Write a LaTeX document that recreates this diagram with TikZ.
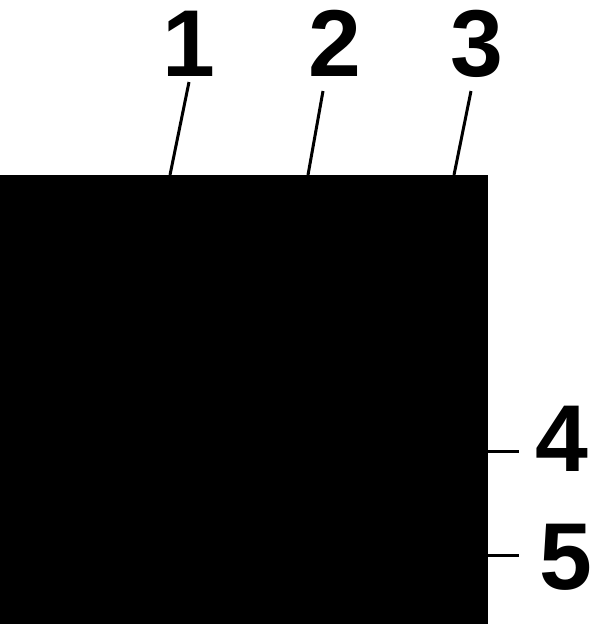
\documentclass[tikz,border=0pt]{standalone}
\usepackage{fontspec}
\setmainfont{Liberation Sans}
\begin{document}
\begin{tikzpicture}[x=1pt,y=-1pt,
  lbl/.style={inner sep=0pt,text height=68pt,text depth=0pt,font=\fontsize{95}{95}\selectfont\bfseries},
  leader/.style={line width=3pt}]
\useasboundingbox (0,0) rectangle (591,624);
\fill[black] (0,175) rectangle (488,624);
\coordinate (b1) at (170,175);
\coordinate (t1) at (189,82);
\coordinate (b2) at (308,175);
\coordinate (t2) at (323,91);
\coordinate (b3) at (454,175);
\coordinate (t3) at (471,91);
\coordinate (r4) at (487,451);
\coordinate (e4) at (519,451);
\coordinate (r5) at (487,555);
\coordinate (e5) at (519,555);
\draw[leader] (b1) -- (t1);
\draw[leader] (b2) -- (t2);
\draw[leader] (b3) -- (t3);
\draw[leader] (r4) -- (e4);
\draw[leader] (r5) -- (e5);
\node[lbl] (n1) at (189,42) {1};
\node[lbl] (n2) at (335,42) {2};
\node[lbl] (n3) at (477,42) {3};
\node[lbl] (n4) at (562,437) {4};
\node[lbl] (n5) at (566,555) {5};
\end{tikzpicture}
\end{document}
